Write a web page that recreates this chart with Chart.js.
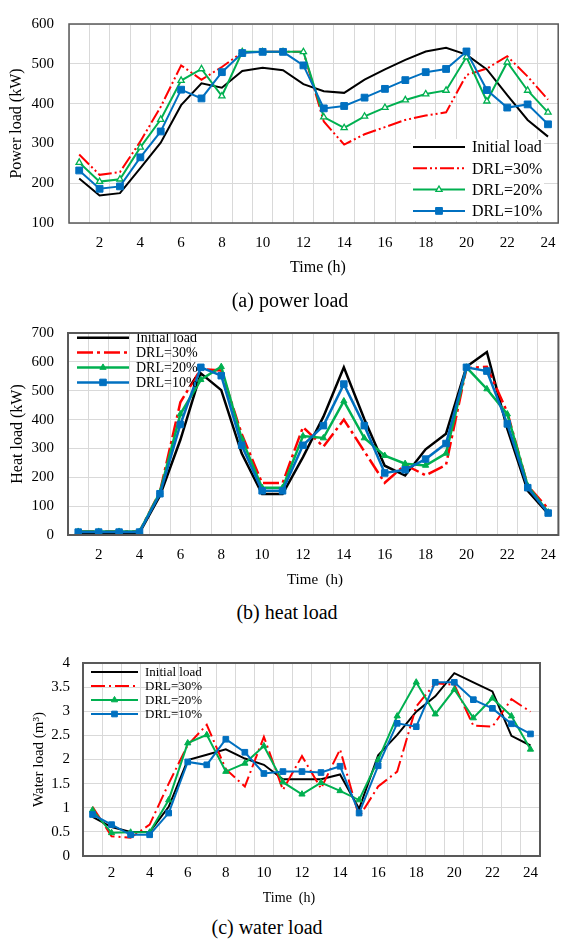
<!DOCTYPE html>
<html><head><meta charset="utf-8">
<script src="https://cdn.jsdelivr.net/npm/chart.js@4.4.1/dist/chart.umd.min.js"></script>
<style>
html,body{margin:0;padding:0;background:#fff;width:564px;height:939px;overflow:hidden;position:relative;font-family:"Liberation Serif",serif;}
.wrap{position:absolute;left:0;width:564px;}
.cap{position:absolute;white-space:nowrap;transform:translate(-50%,-50%);font-size:20px;color:#000;line-height:1;}
</style></head><body>
<div class="wrap" style="top:0;height:280px"><canvas id="cA"></canvas></div>
<div class="wrap" style="top:310px;height:285px"><canvas id="cB"></canvas></div>
<div class="wrap" style="top:640px;height:270px"><canvas id="cC"></canvas></div>
<div class="cap" style="left:290px;top:300px">(a) power load</div>
<div class="cap" style="left:287px;top:612px">(b) heat load</div>
<div class="cap" style="left:267px;top:927px">(c) water load</div>
<script>
const hours = ['1','2','3','4','5','6','7','8','9','10','11','12','13','14','15','16','17','18','19','20','21','22','23','24'];
const seriesNames = ['Initial load','DRL=30%','DRL=20%','DRL=10%'];

const powerInitial = [212,169,175,238,302,396,451,440,482,490,484,449,431,427,460,486,510,531,540,523,486,421,359,317];
const powerDRL30   = [272,221,228,305,392,496,460,492,529,530,530,530,355,297,323,341,359,370,378,472,488,519,468,410];
const powerDRL20   = [252,204,210,290,360,458,487,419,530,530,530,530,366,339,368,390,409,424,433,517,406,504,433,378];
const powerDRL10   = [232,186,192,265,330,435,413,479,527,530,530,496,388,394,415,437,459,479,487,531,434,390,398,348];

const heatInitial = [8,8,8,8,136,330,560,502,283,142,142,270,410,581,402,240,206,297,351,583,634,368,153,74];
const heatDRL30   = [12,12,12,12,150,460,575,570,350,180,180,374,306,400,290,181,243,207,243,578,583,425,170,91];
const heatDRL20   = [12,12,12,12,148,419,538,583,334,164,164,343,336,464,336,275,247,241,283,581,506,419,170,79];
const heatDRL10   = [10,10,10,10,143,383,581,552,311,153,153,311,379,523,379,215,226,263,317,581,568,385,164,76];

const waterInitial = [0.81,0.60,0.50,0.50,1.02,1.99,2.10,2.21,2.02,1.89,1.59,1.59,1.59,1.69,0.98,2.09,2.51,2.99,3.31,3.79,3.60,3.41,2.49,2.29];
const waterDRL30   = [1.02,0.41,0.38,0.65,1.50,2.30,2.72,1.80,1.44,2.47,1.37,2.07,1.40,2.21,0.81,1.44,1.75,3.10,3.58,3.55,2.70,2.68,3.25,2.99];
const waterDRL20   = [0.95,0.48,0.49,0.49,1.16,2.34,2.51,1.75,1.92,2.28,1.53,1.28,1.52,1.35,1.16,1.99,2.90,3.60,2.94,3.45,2.86,3.27,2.90,2.21];
const waterDRL10   = [0.86,0.65,0.44,0.44,0.89,1.95,1.89,2.42,2.15,1.71,1.75,1.75,1.73,1.86,0.89,1.87,2.75,2.68,3.60,3.60,3.24,3.06,2.74,2.53];

const FONT = '"Liberation Serif", "Times New Roman", serif';
const BLACK = '#000000', RED = '#FF0000', GREEN = '#00B050', BLUE = '#0070C0';

function drawMarker(ctx, style, x, y, r, fill, stroke, bw) {
  ctx.save();
  ctx.setLineDash([]);
  ctx.beginPath();
  if (style === 'rect') {
    const s = r * Math.SQRT1_2;
    ctx.rect(x - s, y - s, 2 * s, 2 * s);
  } else {
    let rad = 0;
    const T = Math.PI * 2 / 3;
    ctx.moveTo(x + Math.sin(rad) * r, y - Math.cos(rad) * r);
    rad += T; ctx.lineTo(x + Math.sin(rad) * r, y - Math.cos(rad) * r);
    rad += T; ctx.lineTo(x + Math.sin(rad) * r, y - Math.cos(rad) * r);
    ctx.closePath();
  }
  ctx.fillStyle = fill; ctx.fill();
  ctx.lineWidth = bw; ctx.strokeStyle = stroke; ctx.stroke();
  ctx.restore();
}

const decorPlugin = {
  id: 'decor',
  afterDatasetsDraw(chart, args, o) {
    const ctx = chart.ctx, a = chart.chartArea;
    ctx.save();
    if (o.bgW) { ctx.fillStyle = '#fff'; ctx.fillRect(o.bgX, o.bgY, o.bgW, o.bgH); }
    chart.data.datasets.forEach((ds, i) => {
      const y = o.ly + i * o.dy;
      ctx.beginPath();
      ctx.setLineDash(ds.borderDash || []);
      ctx.strokeStyle = ds.borderColor; ctx.lineWidth = ds.borderWidth;
      ctx.moveTo(o.lx0, y); ctx.lineTo(o.lx1, y); ctx.stroke();
      ctx.setLineDash([]);
      if (ds.pointRadius > 0) drawMarker(ctx, ds.pointStyle, (o.lx0 + o.lx1) / 2, y, ds.pointRadius, ds.pointBackgroundColor, ds.pointBorderColor, ds.pointBorderWidth);
      ctx.fillStyle = '#000'; ctx.font = o.lfont + 'px ' + FONT;
      ctx.textBaseline = 'middle'; ctx.textAlign = 'left';
      ctx.fillText(ds.label, o.tx, y + 1);
    });
    ctx.strokeStyle = '#595959'; ctx.lineWidth = o.boxW;
    ctx.strokeRect(a.left, a.top, a.right - a.left, a.bottom - a.top);
    ctx.fillStyle = '#000'; ctx.font = o.xtFont + 'px ' + FONT;
    ctx.textAlign = 'center'; ctx.textBaseline = 'middle';
    ctx.fillText(o.xTitle, o.xtX, o.xtY);
    ctx.restore();
  }
};

function makeChart(id, vals, c) {
  const dash = c.dash;
  const datasets = [
    {label: seriesNames[0], data: vals[0], borderColor: BLACK, borderWidth: c.lw, pointRadius: 0, order: 4},
    {label: seriesNames[1], data: vals[1], borderColor: RED, borderWidth: c.lw, borderDash: dash, pointRadius: 0, order: 3},
    {label: seriesNames[2], data: vals[2], borderColor: GREEN, borderWidth: c.lw, pointStyle: 'triangle', pointRadius: c.triR,
     pointBackgroundColor: c.triFill, pointBorderColor: GREEN, pointBorderWidth: c.triBW, order: 2},
    {label: seriesNames[3], data: vals[3], borderColor: BLUE, borderWidth: c.lw, pointStyle: 'rect', pointRadius: c.sqR,
     pointBackgroundColor: BLUE, pointBorderColor: BLUE, pointBorderWidth: 1, order: 1}
  ];
  datasets.forEach(d => { d.tension = 0; d.fill = false; d.pointHoverRadius = d.pointRadius; });
  return new Chart(document.getElementById(id), {
    type: 'line',
    data: {labels: hours, datasets},
    plugins: [decorPlugin],
    options: {
      responsive: true, maintainAspectRatio: false, animation: false, devicePixelRatio: 1,
      layout: {padding: {top: c.padTop, right: c.padRight, bottom: 0, left: 0}},
      plugins: {legend: {display: false}, tooltip: {enabled: false}, decor: c.decor},
      scales: {
        x: {
          type: 'category', offset: true,
          grid: {offset: true, color: '#D9D9D9', lineWidth: 1, drawTicks: false},
          border: {display: false},
          ticks: {autoSkip: false, maxRotation: 0, minRotation: 0, padding: c.xTickPad, color: '#000',
                  font: {family: FONT, size: 15},
                  callback: (v, i) => (i % 2 === 1 ? hours[i] : '')},
          afterFit: s => { s.height = c.xHeight; s.paddingLeft = 0; s.paddingRight = 0; }
        },
        y: {
          min: c.yMin, max: c.yMax,
          grid: {color: '#D9D9D9', lineWidth: 1, drawTicks: false},
          border: {display: false},
          ticks: {stepSize: c.step, padding: c.yTickPad, color: '#000', font: {family: FONT, size: 15},
                  callback: v => String(v)},
          title: {display: true, text: c.yTitle, color: '#000', font: {family: FONT, size: c.yTitleSize},
                  padding: {top: c.yTitlePad, bottom: 0}},
          afterFit: s => { s.width = c.yWidth; }
        }
      }
    }
  });
}

makeChart('cA', [powerInitial, powerDRL30, powerDRL20, powerDRL10], {
  lw: 2, dash: [14, 3, 2, 3, 2, 3], triR: 3.6, triFill: '#ffffff', triBW: 1.3, sqR: 4.8,
  padTop: 11, padRight: 1, xHeight: 57, yWidth: 69, xTickPad: 11, yTickPad: 15,
  yMin: 100, yMax: 600, step: 100, yTitle: 'Power load (kW)', yTitleSize: 16, yTitlePad: 7,
  decor: {bgX: 411, bgY: 139, bgW: 133, bgH: 82, lx0: 413, lx1: 465, tx: 472, ly: 147, dy: 21.3, lfont: 16,
          boxW: 1.5, xTitle: 'Time (h)', xtX: 318, xtY: 268, xtFont: 16}
});

makeChart('cB', [heatInitial, heatDRL30, heatDRL20, heatDRL10], {
  lw: 2.5, dash: [16, 4, 3, 4], triR: 3.6, triFill: GREEN, triBW: 1, sqR: 4.6,
  padTop: 19, padRight: 3, xHeight: 60, yWidth: 68, xTickPad: 11, yTickPad: 14,
  yMin: 0, yMax: 700, step: 100, yTitle: 'Heat load (kW)', yTitleSize: 16, yTitlePad: 8,
  decor: {bgW: 0, lx0: 77, lx1: 129, tx: 136, ly: 27.7, dy: 14.9, lfont: 14,
          boxW: 2, xTitle: 'Time  (h)', xtX: 315, xtY: 270, xtFont: 15}
});

makeChart('cC', [waterInitial, waterDRL30, waterDRL20, waterDRL10], {
  lw: 2, dash: [14, 4, 2, 4], triR: 3.6, triFill: GREEN, triBW: 1, sqR: 4,
  padTop: 23, padRight: 24, xHeight: 54, yWidth: 83, xTickPad: 8, yTickPad: 13,
  yMin: 0, yMax: 4, step: 0.5, yTitle: 'Water load (m³)', yTitleSize: 15, yTitlePad: 30,
  decor: {bgW: 0, lx0: 91, lx1: 138, tx: 145, ly: 32, dy: 14, lfont: 13,
          boxW: 2, xTitle: 'Time  (h)', xtX: 289, xtY: 258, xtFont: 14}
});
</script>
</body></html>
